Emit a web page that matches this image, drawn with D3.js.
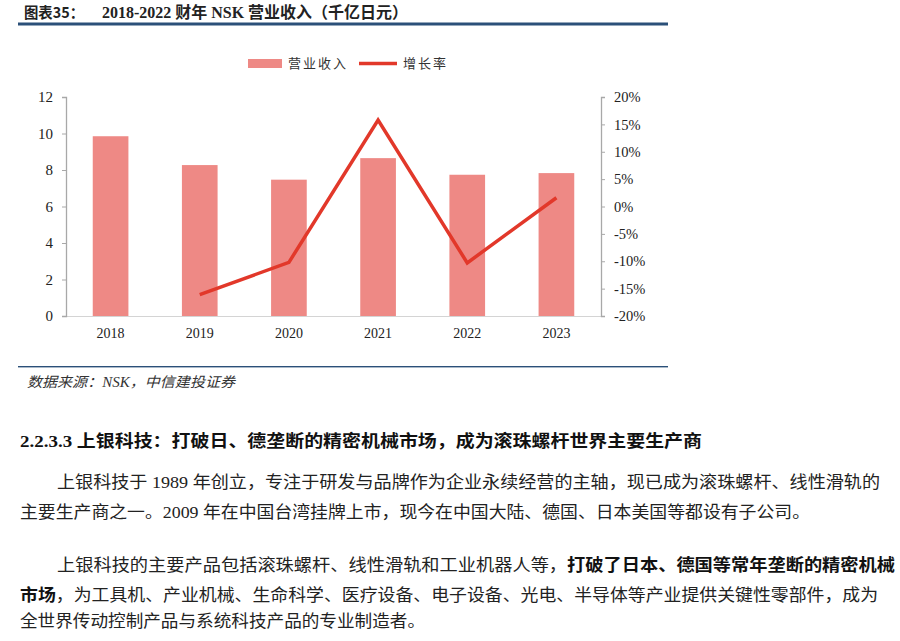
<!DOCTYPE html>
<html>
<head>
<meta charset="utf-8">
<script src="https://cdn.jsdelivr.net/npm/d3@7"></script>
<style>
  body { margin: 0; background: #fff; }
  svg { display: block; }
  .serif { font-family: "Liberation Serif", "Noto Sans CJK SC", serif; }
  .cjk { font-family: "Liberation Serif", "Noto Sans CJK SC", sans-serif; }
</style>
</head>
<body>
<div id="chart"></div>
<script>
// data
const years = ["2018", "2019", "2020", "2021", "2022", "2023"];
const revenue = [9.85, 8.27, 7.47, 8.65, 7.74, 7.83];
const growth = [null, -16.1, -10.2, 15.8, -10.3, 1.6];
const leftTicks = [0, 2, 4, 6, 8, 10, 12];
const rightTicks = [-20, -15, -10, -5, 0, 5, 10, 15, 20];

const svgWidth = 900, svgHeight = 641;
const plot = { left: 66, right: 601, top: 97, bottom: 316 };

const svg = d3.select("#chart").append("svg")
    .attr("width", svgWidth)
    .attr("height", svgHeight);

// title + rule
svg.append("text").attr("x", 24).attr("y", 18)
    .attr("font-size", 15).attr("font-weight", "bold").attr("fill", "#222")
    .attr("font-family", "'Noto Sans CJK SC', sans-serif")
    .attr("textLength", 60).attr("lengthAdjust", "spacingAndGlyphs")
    .text("图表35：");
svg.append("text").attr("x", 102).attr("y", 18).attr("class", "cjk")
    .attr("font-size", 16).attr("font-weight", "bold").attr("fill", "#222")
    .attr("textLength", 306).attr("lengthAdjust", "spacingAndGlyphs")
    .text("2018-2022 财年 NSK 营业收入（千亿日元）");

svg.append("rect").attr("x", 18).attr("y", 22.5).attr("width", 650).attr("height", 3).attr("fill", "#2b5079");

// scales
const x = d3.scaleBand()
    .domain(years)
    .range([plot.left, plot.right])
    .paddingInner(0.6)
    .paddingOuter(0.3);

const yLeft = d3.scaleLinear().domain([0, 12]).range([plot.bottom, plot.top]);
const yRight = d3.scaleLinear().domain([-20, 20]).range([plot.bottom, plot.top]);

// bars
svg.append("g").selectAll("rect")
    .data(years)
    .join("rect")
    .attr("x", d => x(d))
    .attr("y", (d, i) => yLeft(revenue[i]))
    .attr("width", x.bandwidth())
    .attr("height", (d, i) => yLeft(0) - yLeft(revenue[i]))
    .attr("fill", "#ee8985");

// bottom axis line
svg.append("line")
    .attr("x1", plot.left).attr("x2", plot.right)
    .attr("y1", plot.bottom + 0.5).attr("y2", plot.bottom + 0.5)
    .attr("stroke", "#d4d4d4");

// left axis
const axL = svg.append("g")
    .attr("transform", `translate(${plot.left},0)`)
    .call(d3.axisLeft(yLeft).tickValues(leftTicks).tickSize(4).tickPadding(9));
axL.select(".domain").attr("stroke", "#a8a8a8").attr("stroke-width", 1.3);
axL.selectAll(".tick line").attr("stroke", "#a8a8a8");
axL.selectAll("text").attr("class", "serif").attr("font-size", 15).attr("fill", "#222");

// right axis
const axR = svg.append("g")
    .attr("transform", `translate(${plot.right},0)`)
    .call(d3.axisRight(yRight).tickValues(rightTicks).tickSize(4).tickPadding(9)
        .tickFormat(d => d + "%"));
axR.select(".domain").attr("stroke", "#a8a8a8").attr("stroke-width", 1.3);
axR.selectAll(".tick line").attr("stroke", "#a8a8a8");
axR.selectAll("text").attr("class", "serif").attr("font-size", 14.5).attr("fill", "#222");

// x labels
svg.append("g").selectAll("text")
    .data(years)
    .join("text")
    .attr("class", "serif")
    .attr("x", d => x(d) + x.bandwidth() / 2)
    .attr("y", 338)
    .attr("text-anchor", "middle")
    .attr("font-size", 14)
    .attr("fill", "#222")
    .text(d => d);

// growth line
const line = d3.line()
    .defined(d => d[1] != null)
    .x(d => x(d[0]) + x.bandwidth() / 2)
    .y(d => yRight(d[1]));

svg.append("path")
    .datum(years.map((y, i) => [y, growth[i]]))
    .attr("d", line)
    .attr("fill", "none")
    .attr("stroke", "#e2382a")
    .attr("stroke-width", 3.5)
    .attr("stroke-linejoin", "miter");

// legend
const legend = svg.append("g").attr("font-family", "'Noto Sans CJK SC', sans-serif")
    .attr("font-size", 13).attr("fill", "#333");
legend.append("rect").attr("x", 248).attr("y", 59).attr("width", 34).attr("height", 9).attr("fill", "#ee8985");
legend.append("text").attr("x", 288).attr("y", 68).attr("letter-spacing", 2).text("营业收入");
legend.append("line").attr("x1", 359).attr("x2", 397).attr("y1", 63.5).attr("y2", 63.5)
    .attr("stroke", "#e2382a").attr("stroke-width", 3.5);
legend.append("text").attr("x", 403).attr("y", 68).attr("letter-spacing", 2).text("增长率");

// source rule + note
svg.append("rect").attr("x", 18).attr("y", 366).attr("width", 650).attr("height", 1.4).attr("fill", "#2b5079");
svg.append("text").attr("class", "serif").attr("x", 27).attr("y", 387)
    .attr("font-size", 14).attr("font-style", "italic").attr("fill", "#333")
    .attr("textLength", 208).attr("lengthAdjust", "spacingAndGlyphs")
    .text("数据来源：NSK，中信建投证券");

// body text
const bodyFont = "'Liberation Serif', 'Noto Sans CJK SC', serif";

svg.append("text").attr("x", 20).attr("y", 447)
    .attr("font-family", bodyFont).attr("font-size", 16.5).attr("font-weight", "bold").attr("fill", "#111")
    .attr("textLength", 682).attr("lengthAdjust", "spacingAndGlyphs")
    .text("2.2.3.3 上银科技：打破日、德垄断的精密机械市场，成为滚珠螺杆世界主要生产商");

const paraLines = [
    { x: 57, y: 488, len: 823, parts: [["上银科技于 1989 年创立，专注于研发与品牌作为企业永续经营的主轴，现已成为滚珠螺杆、线性滑轨的", false]] },
    { x: 20, y: 518, len: 790, parts: [["主要生产商之一。2009 年在中国台湾挂牌上市，现今在中国大陆、德国、日本美国等都设有子公司。", false]] },
    { x: 57, y: 571, len: 838, parts: [["上银科技的主要产品包括滚珠螺杆、线性滑轨和工业机器人等，", false], ["打破了日本、德国等常年垄断的精密机械", true]] },
    { x: 20, y: 601, len: 858, parts: [["市场", true], ["，为工具机、产业机械、生命科学、医疗设备、电子设备、光电、半导体等产业提供关键性零部件，成为", false]] },
    { x: 20, y: 627, len: 405, parts: [["全世界传动控制产品与系统科技产品的专业制造者。", false]] }
];

paraLines.forEach(l => {
    const t = svg.append("text").attr("x", l.x).attr("y", l.y)
        .attr("font-family", bodyFont).attr("font-size", 16.5).attr("fill", "#222")
        .attr("textLength", l.len).attr("lengthAdjust", "spacingAndGlyphs");
    l.parts.forEach(p => {
        t.append("tspan").attr("font-weight", p[1] ? "bold" : "normal")
            .attr("fill", p[1] ? "#111" : "#222").text(p[0]);
    });
});
</script>
</body>
</html>
